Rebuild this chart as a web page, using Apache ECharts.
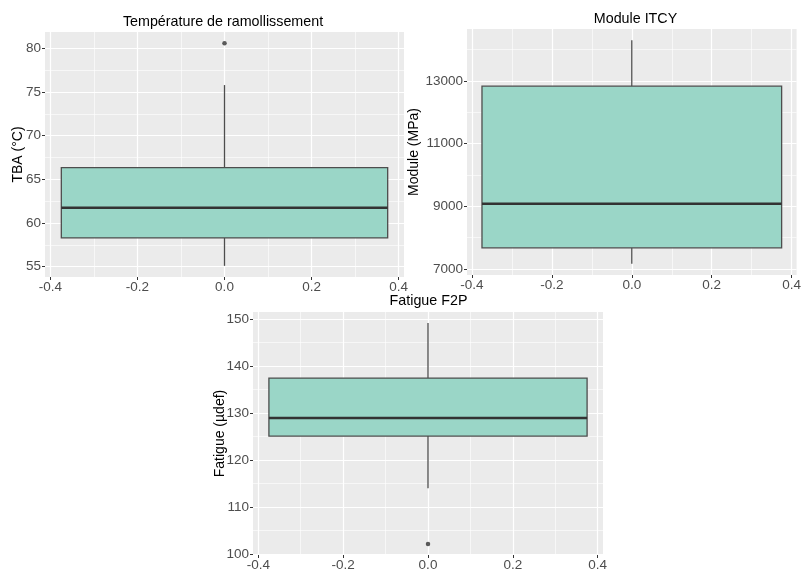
<!DOCTYPE html>
<html>
<head>
<meta charset="utf-8">
<script src="https://cdn.jsdelivr.net/npm/echarts@6/dist/echarts.min.js"></script>
<style>
  html, body { margin: 0; padding: 0; background: #ffffff; }
  #chart { width: 804px; height: 572px; }
</style>
</head>
<body>
<div id="chart"></div>
<script>
// Box statistics: [lower whisker, Q1, median, Q3, upper whisker]
const tbaStats = [55.1, 58.3, 61.75, 66.35, 75.8];
const tbaOutliers = [80.6];
const moduleStats = [7160, 7670, 9080, 12830, 14300];
const moduleOutliers = [];
const fatigueStats = [113.95, 125.05, 128.9, 137.4, 149.1];
const fatigueOutliers = [102.1];

// Titles and axis names
const panelTitles = ['Température de ramollissement', 'Module ITCY', 'Fatigue F2P'];
const yNames = ['TBA (°C)', 'Module (MPa)', 'Fatigue (µdef)'];

// Tick values (major / minor grid)
const xTicks = [-0.4, -0.2, 0, 0.2, 0.4];
const xMinorTicks = [-0.3, -0.1, 0.1, 0.3];
const tbaTicks = [55, 60, 65, 70, 75, 80];
const tbaMinorTicks = [57.5, 62.5, 67.5, 72.5, 77.5];
const moduleTicks = [7000, 9000, 11000, 13000];
const moduleMinorTicks = [8000, 10000, 12000, 14000];
const fatigueTicks = [100, 110, 120, 130, 140, 150];
const fatigueMinorTicks = [105, 115, 125, 135, 145];

const FONT = "'Liberation Sans', Arial, Helvetica, sans-serif";
const BOX_HALF = 0.375;           // box spans x = -0.375 .. 0.375
const X_RANGE = [-0.4125, 0.4125]; // box range plus 5% padding
const FILL = '#9AD6C7';
const PANEL_BG = '#EBEBEB';

function paddedRange(stats, outliers) {
  const all = stats.concat(outliers);
  const lo = Math.min.apply(null, all);
  const hi = Math.max.apply(null, all);
  const pad = (hi - lo) * 0.05;
  return [lo - pad, hi + pad];
}

const panels = [
  { stats: tbaStats, outliers: tbaOutliers, ticks: tbaTicks, minor: tbaMinorTicks,
    grid: { left: 45, top: 32, width: 359, height: 245 }, nameGap: 19.5,
    titleX: 223, titleY: 22.5 },
  { stats: moduleStats, outliers: moduleOutliers, ticks: moduleTicks, minor: moduleMinorTicks,
    grid: { left: 467, top: 29, width: 336, height: 246 }, nameGap: 45.5,
    titleX: 635.5, titleY: 19 },
  { stats: fatigueStats, outliers: fatigueOutliers, ticks: fatigueTicks, minor: fatigueMinorTicks,
    grid: { left: 253, top: 312, width: 350, height: 245 }, nameGap: 25.5,
    titleX: 428.5, titleY: 301.5 }
];

function renderBox(params, api) {
  const x = api.value(0);
  const lo = api.value(1), q1 = api.value(2), med = api.value(3), q3 = api.value(4), hi = api.value(5);
  const tl = api.coord([x - BOX_HALF, q3]);
  const br = api.coord([x + BOX_HALF, q1]);
  const pHi = api.coord([x, hi]);
  const pQ3 = api.coord([x, q3]);
  const pQ1 = api.coord([x, q1]);
  const pLo = api.coord([x, lo]);
  const mL = api.coord([x - BOX_HALF, med]);
  const mR = api.coord([x + BOX_HALF, med]);
  const edge = { stroke: '#4d4d4d', lineWidth: 1.3 };
  return {
    type: 'group',
    children: [
      { type: 'line', shape: { x1: pHi[0], y1: pHi[1], x2: pQ3[0], y2: pQ3[1] }, style: edge },
      { type: 'line', shape: { x1: pQ1[0], y1: pQ1[1], x2: pLo[0], y2: pLo[1] }, style: edge },
      { type: 'rect', shape: { x: tl[0], y: tl[1], width: br[0] - tl[0], height: br[1] - tl[1] },
        style: { fill: FILL, stroke: '#4d4d4d', lineWidth: 1.3 } },
      { type: 'line', shape: { x1: mL[0], y1: mL[1], x2: mR[0], y2: mR[1] },
        style: { stroke: '#333333', lineWidth: 2.6 } }
    ]
  };
}

const grids = [], xAxes = [], yAxes = [], series = [], graphics = [];

panels.forEach(function (p, i) {
  const yr = paddedRange(p.stats, p.outliers);
  grids.push(Object.assign({ show: true, backgroundColor: PANEL_BG, borderWidth: 0 }, p.grid));

  // major x axis
  xAxes.push({
    type: 'value', gridIndex: i, min: X_RANGE[0], max: X_RANGE[1], position: 'bottom',
    axisLine: { show: false, onZero: false },
    axisTick: { show: true, length: 3, customValues: xTicks, lineStyle: { color: '#333333', width: 1 } },
    axisLabel: { customValues: xTicks, margin: 3, color: '#4D4D4D', fontSize: 13.5, fontFamily: FONT,
      formatter: function (v) { return v.toFixed(1); } },
    splitLine: { show: true, lineStyle: { color: '#ffffff', width: 1.2 } }
  });
  // minor x grid
  xAxes.push({
    type: 'value', gridIndex: i, min: X_RANGE[0], max: X_RANGE[1], position: 'top',
    axisLine: { show: false, onZero: false },
    axisTick: { show: false, customValues: xMinorTicks },
    axisLabel: { show: false },
    splitLine: { show: true, lineStyle: { color: '#ffffff', width: 0.6 } }
  });
  // major y axis
  yAxes.push({
    type: 'value', gridIndex: i, min: yr[0], max: yr[1], position: 'left',
    name: yNames[i], nameLocation: 'middle', nameGap: p.nameGap, nameMoveOverlap: false,
    nameTextStyle: { color: '#000000', fontSize: 14, fontFamily: FONT },
    axisLine: { show: false, onZero: false },
    axisTick: { show: true, length: 3, customValues: p.ticks, lineStyle: { color: '#333333', width: 1 } },
    axisLabel: { customValues: p.ticks, margin: 4, color: '#4D4D4D', fontSize: 13.5, fontFamily: FONT,
      formatter: function (v) { return String(v); } },
    splitLine: { show: true, lineStyle: { color: '#ffffff', width: 1.2 } }
  });
  // minor y grid
  yAxes.push({
    type: 'value', gridIndex: i, min: yr[0], max: yr[1], position: 'right',
    axisLine: { show: false, onZero: false },
    axisTick: { show: false, customValues: p.minor },
    axisLabel: { show: false },
    splitLine: { show: true, lineStyle: { color: '#ffffff', width: 0.6 } }
  });

  series.push({
    type: 'custom', name: panelTitles[i],
    xAxisIndex: 2 * i, yAxisIndex: 2 * i,
    renderItem: renderBox,
    encode: { x: 0, y: [1, 2, 3, 4, 5] },
    data: [[0].concat(p.stats)],
    z: 3
  });
  series.push({
    type: 'scatter',
    xAxisIndex: 2 * i, yAxisIndex: 2 * i,
    symbol: 'circle', symbolSize: 4.5,
    itemStyle: { color: '#333333' },
    data: p.outliers.map(function (v) { return [0, v]; }),
    z: 4
  });

  graphics.push({
    type: 'text', x: p.titleX, y: p.titleY,
    style: { text: panelTitles[i], font: '14.3px ' + FONT, fill: '#000000',
      align: 'center', verticalAlign: 'middle', textAlign: 'center', textVerticalAlign: 'middle' }
  });
});

const chart = echarts.init(document.getElementById('chart'), null, { renderer: 'canvas' });
chart.setOption({
  animation: false,
  backgroundColor: '#ffffff',
  grid: grids,
  xAxis: xAxes,
  yAxis: yAxes,
  series: series,
  graphic: graphics
});
</script>
</body>
</html>
